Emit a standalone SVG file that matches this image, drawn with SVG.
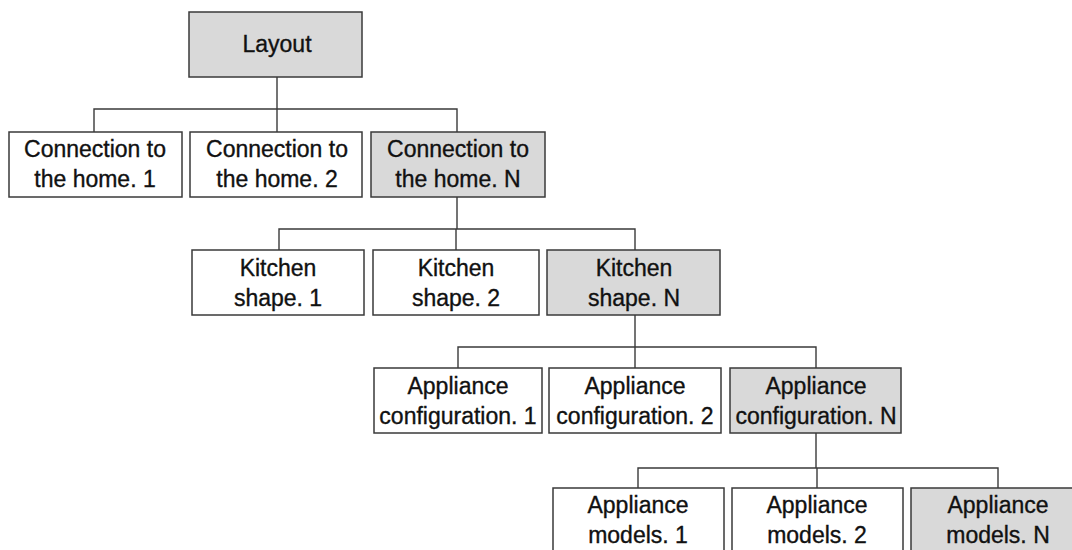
<svg xmlns="http://www.w3.org/2000/svg" width="1072" height="550" viewBox="0 0 1072 550">
<style>
.box{fill:#ffffff;stroke:#3a3a3a;stroke-width:1.5}
.hl{fill:#d9d9d9;stroke:#3a3a3a;stroke-width:1.5}
.t{font-family:"Liberation Sans",Arial,sans-serif;font-size:23px;fill:#111;stroke:#111;stroke-width:0.35;text-anchor:middle}
.c{fill:none;stroke:#3a3a3a;stroke-width:1.4}
</style>
<rect width="1072" height="550" fill="#ffffff"/>
<g id="connectors">
<path class="c" d="M277,77V109M94,132V109H457V132M277,109V132"/>
<path class="c" d="M457,197V229M279,250V229H635V250M456,229V250"/>
<path class="c" d="M635,315V347M458,368V347H816V368M635,347V368"/>
<path class="c" d="M816,433V468M638,488V468H998V488M817,468V488"/>
</g>
<g id="layout"><rect class="hl" x="189" y="12" width="173" height="65"/><text class="t" x="277" y="52">Layout</text></g>
<g id="conn1"><rect class="box" x="9" y="132" width="173" height="65"/><text class="t" x="95" y="157">Connection to</text><text class="t" x="95" y="187">the home. 1</text></g>
<g id="conn2"><rect class="box" x="190" y="132" width="172" height="65"/><text class="t" x="277" y="157">Connection to</text><text class="t" x="277" y="187">the home. 2</text></g>
<g id="connN"><rect class="hl" x="371" y="132" width="174" height="65"/><text class="t" x="458" y="157">Connection to</text><text class="t" x="458" y="187">the home. N</text></g>
<g id="kitchen1"><rect class="box" x="192" y="250" width="172" height="65"/><text class="t" x="278" y="276">Kitchen</text><text class="t" x="278" y="306">shape. 1</text></g>
<g id="kitchen2"><rect class="box" x="373" y="250" width="166" height="65"/><text class="t" x="456" y="276">Kitchen</text><text class="t" x="456" y="306">shape. 2</text></g>
<g id="kitchenN"><rect class="hl" x="547" y="250" width="173" height="65"/><text class="t" x="634" y="276">Kitchen</text><text class="t" x="634" y="306">shape. N</text></g>
<g id="config1"><rect class="box" x="374" y="368" width="168" height="65"/><text class="t" x="458" y="394">Appliance</text><text class="t" x="458" y="424">configuration. 1</text></g>
<g id="config2"><rect class="box" x="549" y="368" width="172" height="65"/><text class="t" x="635" y="394">Appliance</text><text class="t" x="635" y="424">configuration. 2</text></g>
<g id="configN"><rect class="hl" x="730" y="368" width="171" height="65"/><text class="t" x="816" y="394">Appliance</text><text class="t" x="816" y="424">configuration. N</text></g>
<g id="models1"><rect class="box" x="553" y="488" width="171" height="65"/><text class="t" x="638" y="513">Appliance</text><text class="t" x="638" y="543">models. 1</text></g>
<g id="models2"><rect class="box" x="732" y="488" width="171" height="65"/><text class="t" x="817" y="513">Appliance</text><text class="t" x="817" y="543">models. 2</text></g>
<g id="modelsN"><rect class="hl" x="911" y="488" width="174" height="65"/><text class="t" x="998" y="513">Appliance</text><text class="t" x="998" y="543">models. N</text></g>
</svg>
